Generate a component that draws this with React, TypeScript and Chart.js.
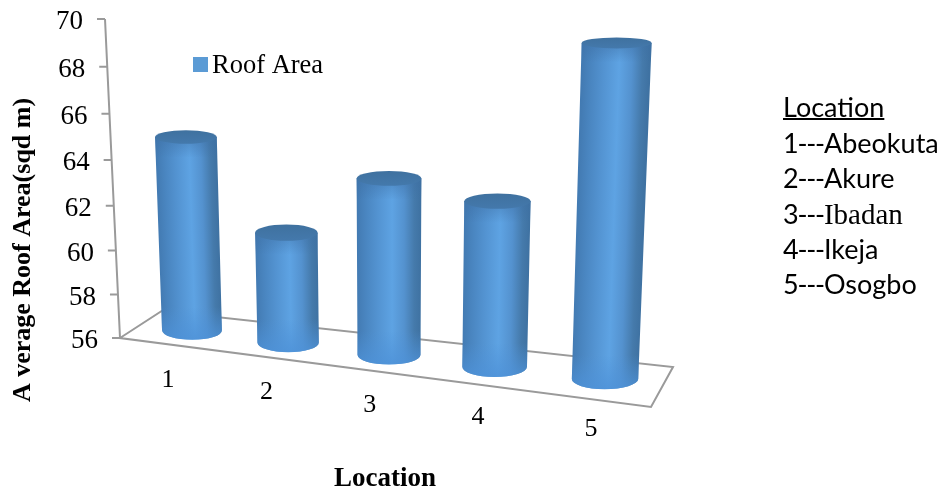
import React, { useEffect, useRef } from "react";
import { Chart, BarController, BarElement, CategoryScale, LinearScale } from "chart.js";

// Chart content
const categories = ["1", "2", "3", "4", "5"];
const roofArea = [65, 60.8, 63.2, 62.2, 69];
const seriesName = "Roof Area";
const yTitle = "A verage Roof Area(sqd m)";
const xTitle = "Location";
const keyHeading = "Location";
const keyPlaces = ["Abeokuta", "Akure", "Ibadan", "Ikeja", "Osogbo"];

// Oblique projection of the floor and columns
const FLOOR_START = 56.36;
const FLOOR_DROP = 0.57;
const VANISH_X = 389;
const TILT = 0.00016;
const WIDTH_GROWTH = 0.00025;
const SERIF = '"Liberation Serif", "Times New Roman", serif';
const SANS = 'Lato, "Noto Sans", sans-serif';

const ellipseRadius = (y: number) => 5.5 + 0.014 * (y - 43);

class CylinderElement extends BarElement {
  static id = "cylinder";

  draw(ctx: CanvasRenderingContext2D) {
    const { x, y, base, width } = this as any;
    const h = base - y;
    const spread = (x - VANISH_X) * TILT;
    const wBottom = width * (1 + (x - VANISH_X) * WIDTH_GROWTH);
    const wTop = wBottom * (1 + TILT * h);
    const shift = spread * h;
    const rBottom = ellipseRadius(base);
    const rTop = ellipseRadius(y);

    ctx.save();
    ctx.transform(1, 0, -spread, 1, x, base);
    const shade = ctx.createLinearGradient(-wBottom / 2, 0, wBottom / 2, 0);
    shade.addColorStop(0, "#437bb3");
    shade.addColorStop(0.14, "#4a86c1");
    shade.addColorStop(0.32, "#5393d1");
    shade.addColorStop(0.55, "#5ea3e3");
    shade.addColorStop(0.74, "#5492cf");
    shade.addColorStop(0.9, "#457aab");
    shade.addColorStop(1, "#3f72a2");
    ctx.beginPath();
    ctx.moveTo(-wBottom / 2, 0);
    ctx.lineTo(-wTop / 2, -h);
    ctx.lineTo(wTop / 2, -h);
    ctx.lineTo(wBottom / 2, 0);
    ctx.ellipse(0, 0, wBottom / 2, rBottom, 0, 0, Math.PI);
    ctx.closePath();
    ctx.fillStyle = shade;
    ctx.fill();
    ctx.clip();

    // Soft brightening where the column curves into its base
    const glow = ctx.createLinearGradient(0, -rBottom - 14, 0, rBottom);
    glow.addColorStop(0, "rgba(78,146,216,0)");
    glow.addColorStop(1, "rgba(78,146,216,0.85)");
    ctx.fillStyle = glow;
    ctx.fillRect(-wBottom, -rBottom - 14, wBottom * 2, rBottom * 2 + 14);

    // Shadow falling off just under the lid
    const collar = ctx.createLinearGradient(0, -h, 0, -h + rTop + 14);
    collar.addColorStop(0, "rgba(62,112,165,0.55)");
    collar.addColorStop(1, "rgba(62,112,165,0)");
    ctx.fillStyle = collar;
    ctx.fillRect(-wBottom, -h, wBottom * 2, rTop + 14);
    ctx.restore();

    // Lid
    const lid = ctx.createLinearGradient(0, y - rTop, 0, y + rTop);
    lid.addColorStop(0, "#3f719f");
    lid.addColorStop(1, "#4479ac");
    ctx.beginPath();
    ctx.ellipse(x + shift, y, wTop / 2, rTop, 0, 0, Math.PI * 2);
    ctx.fillStyle = lid;
    ctx.fill();
  }
}

class CylinderController extends BarController {
  static id = "cylinder";
  static defaults = { ...BarController.defaults, dataElementType: "cylinder" };
}

// Category axis whose slots widen towards the viewer
class PerspectiveCategoryScale extends CategoryScale {
  static id = "perspectiveCategory";
  static defaults = CategoryScale.defaults;

  getPixelForDecimal(decimal: number) {
    return super.getPixelForDecimal(decimal * 0.885 + 0.115 * decimal * decimal);
  }
}

// Value axis whose units stretch slightly towards its upper end
class PerspectiveLinearScale extends LinearScale {
  static id = "perspectiveLinear";
  static defaults = LinearScale.defaults;

  getPixelForDecimal(decimal: number) {
    return super.getPixelForDecimal(decimal * 0.944 + 0.056 * decimal * decimal);
  }
}

const sceneryPlugin = {
  id: "scenery",
  beforeDatasetsDraw(chart: any) {
    const { ctx, chartArea } = chart;
    const { left, right, top, bottom } = chartArea;
    const axisX = (y: number) => left - 25.7 - ((bottom - y) * 15) / (bottom - top);

    ctx.save();
    ctx.strokeStyle = "#9a9a9a";
    ctx.lineWidth = 2;
    ctx.lineJoin = "miter";

    // Floor outline
    ctx.beginPath();
    ctx.moveTo(left - 25.7, bottom);
    ctx.lineTo(left + 16, bottom - 27);
    ctx.lineTo(right + 11, bottom + 29);
    ctx.lineTo(right - 11, bottom + 69);
    ctx.closePath();
    ctx.stroke();

    // Value axis with ticks leaning along the back wall
    const yScale = chart.scales.y;
    ctx.beginPath();
    ctx.moveTo(axisX(top), top);
    ctx.lineTo(axisX(bottom), bottom);
    yScale.ticks.forEach((tick: any) => {
      const py = yScale.getPixelForValue(tick.value);
      ctx.moveTo(axisX(py), py);
      ctx.lineTo(axisX(py) - 8, py);
    });
    ctx.stroke();
    ctx.restore();
  },
  afterDatasetsDraw(chart: any) {
    const { ctx, chartArea } = chart;
    const { left, top, bottom } = chartArea;
    const axisX = (y: number) => left - 25.7 - ((bottom - y) * 15) / (bottom - top);
    const xScale = chart.scales.x;
    const yScale = chart.scales.y;

    ctx.save();
    ctx.fillStyle = "#000";

    // Value ticks
    ctx.font = `27px ${SERIF}`;
    ctx.textAlign = "right";
    ctx.textBaseline = "middle";
    yScale.ticks.forEach((tick: any) => {
      const py = yScale.getPixelForValue(tick.value);
      ctx.fillText(tick.label, axisX(py) - 22, py + 3);
    });

    // Category ticks follow the sloping front edge
    ctx.font = `26px ${SERIF}`;
    ctx.textAlign = "center";
    categories.forEach((label, i) => {
      const px = xScale.getPixelForValue(i);
      const floor = yScale.getPixelForValue(FLOOR_START - FLOOR_DROP * i);
      ctx.fillText(label, px - 24 + (px - 192) * 0.024, floor + 50);
    });

    // Axis titles
    ctx.font = `bold 27px ${SERIF}`;
    ctx.fillText(xScale.options.title.text, 385, 479);
    ctx.font = `bold 26px ${SERIF}`;
    ctx.save();
    ctx.translate(23, 250);
    ctx.rotate(-Math.PI / 2);
    ctx.fillText(yScale.options.title.text, 0, 0);
    ctx.restore();

    // Series key
    const dataset = chart.data.datasets[0];
    ctx.fillStyle = dataset.backgroundColor;
    ctx.fillRect(193, 57, 15, 15);
    ctx.fillStyle = "#000";
    ctx.textAlign = "left";
    ctx.font = `26.5px ${SERIF}`;
    ctx.fillText(dataset.label, 212, 66);

    // Location key
    ctx.textBaseline = "alphabetic";
    ctx.font = `27px ${SANS}`;
    ctx.fillText(keyHeading, 783, 117);
    ctx.fillRect(783, 118, ctx.measureText(keyHeading).width, 2);
    keyPlaces.forEach((place, i) => {
      const baseline = 153 + i * 35.3;
      ctx.font = `27px ${SANS}`;
      (ctx as any).letterSpacing = "-1.2px";
      const prefix = `${categories[i]}---`;
      ctx.fillText(prefix, 783, baseline);
      const offset = ctx.measureText(prefix).width;
      (ctx as any).letterSpacing = "0px";
      ctx.font = place === "Ibadan" ? `29px ${SERIF}` : `27px ${SANS}`;
      ctx.fillText(place, 783 + offset, baseline);
    });
    ctx.restore();
  },
};

Chart.register(CylinderController, CylinderElement, PerspectiveCategoryScale, PerspectiveLinearScale);

export default function App() {
  const canvasRef = useRef<HTMLCanvasElement>(null);

  useEffect(() => {
    const chart = new Chart(canvasRef.current as HTMLCanvasElement, {
      type: "cylinder" as any,
      data: {
        labels: categories,
        datasets: [
          {
            label: seriesName,
            data: roofArea.map((value, i) => [FLOOR_START - FLOOR_DROP * i, value]),
            backgroundColor: "#5b9bd5",
            barThickness: 63,
            clip: false,
          } as any,
        ],
      },
      options: {
        animation: false,
        responsive: false,
        events: [],
        layout: { padding: { left: 145.7, right: 280, top: 19, bottom: 154 } },
        plugins: {},
        scales: {
          x: {
            type: "perspectiveCategory" as any,
            display: false,
            offset: true,
            title: { text: xTitle },
          },
          y: {
            type: "perspectiveLinear" as any,
            display: false,
            min: 56,
            max: 70,
            ticks: { stepSize: 2 },
            title: { text: yTitle },
          },
        },
      },
      plugins: [sceneryPlugin],
    });
    return () => chart.destroy();
  }, []);

  return (
    <div style={{ position: "fixed", left: 0, top: 0, width: 942, height: 492, background: "#fff" }}>
      <canvas ref={canvasRef} width={942} height={492} style={{ display: "block" }} />
    </div>
  );
}
